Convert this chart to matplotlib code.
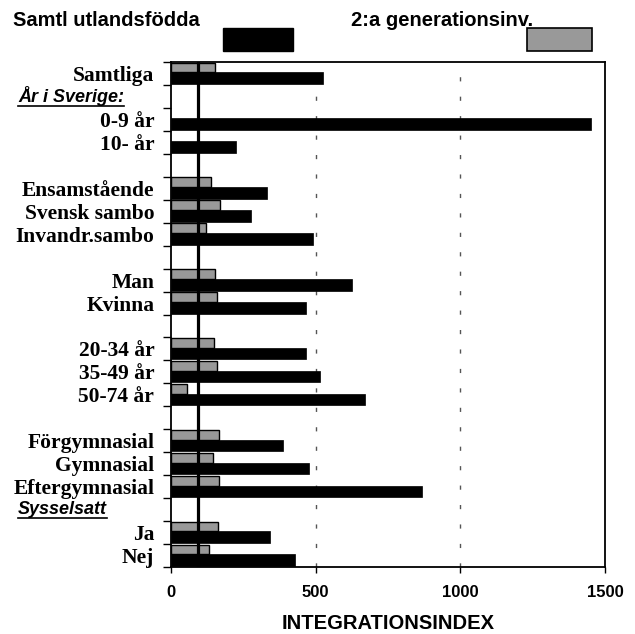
import numpy as np
import matplotlib
matplotlib.use('Agg')
import matplotlib.pyplot as plt
from matplotlib.patches import Rectangle
from matplotlib.lines import Line2D
import matplotlib.transforms as mtransforms

# rows from top to bottom ('' = empty row, headings handled separately)
labels = ['Samtliga', '', '0-9 år', '10- år', '',
          'Ensamstående', 'Svensk sambo', 'Invandr.sambo', '',
          'Man', 'Kvinna', '',
          '20-34 år', '35-49 år', '50-74 år', '',
          'Förgymnasial', 'Gymnasial', 'Eftergymnasial', '',
          'Ja', 'Nej']
headings = {1: 'År i Sverige:', 19: 'Sysselsatt'}

# 2:a generationsinv. (grey)
second_gen = [152, np.nan, np.nan, np.nan, np.nan,
              139, 169, 121, np.nan,
              153, 159, np.nan,
              148, 158, 56, np.nan,
              166, 144, 166, np.nan,
              163, 132]
# Samtl utlandsfödda (black)
foreign_born = [527, np.nan, 1452, 225, np.nan,
                331, 277, 491, np.nan,
                626, 468, np.nan,
                467, 516, 671, np.nan,
                388, 477, 867, np.nan,
                342, 428]
ref_value = 93
xticks = [0, 500, 1000, 1500]

sans = 'Liberation Sans'
serif = 'Liberation Serif'

fig = plt.figure(figsize=(6.35, 6.34), dpi=100)
ax = fig.add_axes([171 / 635, 1 - 567 / 634, 434 / 635, 505 / 634])

n = len(labels)
rows = np.arange(n)
g = np.array(second_gen, dtype=float)
b = np.array(foreign_born, dtype=float)
gm = ~np.isnan(g)
bm = ~np.isnan(b)

ax.barh(rows[gm] + 0.03, g[gm], height=0.42, align='edge',
        color='#999999', edgecolor='black', linewidth=1.0, zorder=2)
ax.barh(rows[bm] + 0.45, b[bm], height=0.51, align='edge',
        color='black', edgecolor='black', linewidth=0.5, zorder=2)
ax.axvline(ref_value, color='black', linewidth=2.3, zorder=3)

for xv in [500, 1000]:
    ax.axvline(xv, color='#555555', linewidth=1.0, linestyle=(0, (3, 11)), zorder=1)

ax.set_xlim(0, 1500)
ax.set_ylim(n, 0)

ax.set_xticks(xticks)
ax.set_xticklabels([str(x) for x in xticks], fontfamily=sans,
                   fontweight='bold', fontsize=12)
ax.tick_params(axis='x', length=4, width=1, pad=9)

ax.set_yticks(np.arange(n + 1))
ax.set_yticklabels([])
ax.set_yticks(rows + 0.5, minor=True)
ax.set_yticklabels(labels, minor=True, fontfamily=serif,
                   fontweight='bold', fontsize=15.5)
ax.tick_params(axis='y', which='major', length=6, width=1)
ax.tick_params(axis='y', which='minor', length=0, pad=12)

for sp in ax.spines.values():
    sp.set_linewidth(1.3)

ax.set_xlabel('INTEGRATIONSINDEX', fontfamily=sans, fontweight='bold',
              fontsize=14.5, labelpad=10)

# headings inside the y-label column
trans = mtransforms.blended_transform_factory(fig.transFigure, ax.transData)
head_texts = []
for r, t in headings.items():
    head_texts.append(ax.text(18 / 635, r + 0.5, t, transform=trans,
                              ha='left', va='center', fontfamily=sans,
                              fontweight='bold', fontstyle='italic', fontsize=13))

# legend-like header
fig.text(13 / 635, 1 - 26 / 634, 'Samtl utlandsfödda', ha='left', va='baseline',
         fontfamily=sans, fontweight='bold', fontsize=14.5)
fig.text(533 / 635, 1 - 26 / 634, '2:a generationsinv.', ha='right', va='baseline',
         fontfamily=sans, fontweight='bold', fontsize=14.5)
fig.patches.append(Rectangle((223 / 635, 1 - 51 / 634), 70 / 635, 23 / 634,
                             transform=fig.transFigure, facecolor='black',
                             edgecolor='black', linewidth=1))
fig.patches.append(Rectangle((527 / 635, 1 - 51 / 634), 65 / 635, 23 / 634,
                             transform=fig.transFigure, facecolor='#999999',
                             edgecolor='black', linewidth=1.2))

# underline the headings
fig.canvas.draw()
renderer = fig.canvas.get_renderer()
for t in head_texts:
    bb = t.get_window_extent(renderer).transformed(fig.transFigure.inverted())
    fig.lines.append(Line2D([bb.x0, bb.x1], [bb.y0, bb.y0], transform=fig.transFigure,
                            color='black', linewidth=1.2))

fig.savefig('out.png', dpi=100)
